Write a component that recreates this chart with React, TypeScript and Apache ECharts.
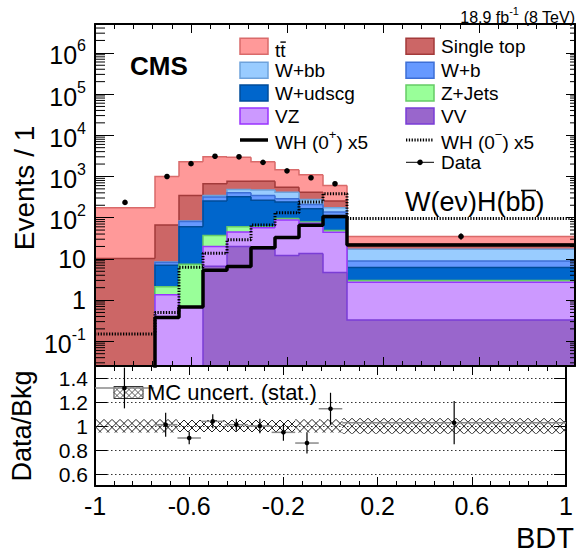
import React, { useEffect, useRef } from "react";
import * as echarts from "echarts";

// ---------------- data ----------------
const binEdges = [-1, -0.75, -0.65, -0.55, -0.45, -0.35, -0.25, -0.15, -0.05, 0.05, 1];
const binCenters = [-0.875, -0.7, -0.6, -0.5, -0.4, -0.3, -0.2, -0.1, 0.0, 0.525];

// background yields per bin (stacked bottom -> top: VV, VZ, Z+Jets, W+udscg, W+b, W+bb, Single top, ttbar)
const vvYield = [0, 0, 0, 6.6, 20, 17, 12, 13.5, 4.7, 0.33];
const vzYield = [0, 1.34, 0.66, 13.4, 25, 40, 76, 59.5, 39.3, 2.37];
const zjetsYield = [0, 0.76, 6.74, 17, 15, 3, 7, 5, 5, 0.3];
const wudscgYield = [0, 4.9, 52.6, 215, 262, 203, 145, 87, 51, 3.2];
const wbYield = [0, 1.2, 21, 64, 78, 83, 48, 45, 38, 2.7];
const wbbYield = [0, 0.2, 2, 30, 85, 121, 127, 66, 36, 8.1];
const singleTopYield = [10.2, 57.6, 263, 320, 285, 303, 135, 139, 78, 6];
const ttbarYield = [164, 934, 1924, 2334, 2170, 1500, 900, 685, 353, 12];

// signals (x5)
const wh0PlusX5 = [0, 0.38, 0.68, 5.3, 6.5, 18.6, 33, 65, 106, 21.8];
const wh0MinusX5 = [0.15, 0.5, 6.3, 13.6, 29, 66, 131, 240, 380, 95];

// data
const dataCounts = [234, 1000, 2040, 3100, 3000, 2200, 1370, 930, 665, 35];
const dataErrors = [15, 32, 45, 56, 55, 47, 37, 30, 26, 6];

// ratio panel
const ratioValues = [1.317, 1.011, 0.9, 1.039, 1.011, 1.0, 0.947, 0.858, 1.144, 1.028];
const ratioErrors = [0.17, 0.1, 0.053, 0.058, 0.05, 0.06, 0.07, 0.088, 0.133, 0.18];
const mcUncert = [0.055, 0.055, 0.05, 0.05, 0.05, 0.05, 0.05, 0.055, 0.055, 0.065];

// axis ranges
const Y_MIN = Math.pow(10, -1.6);
const Y_MAX = Math.pow(10, 6.7);
const R_MIN = 0.5;
const R_MAX = 1.5;

const FONT = "'Liberation Sans', Arial, Helvetica, sans-serif";

// stack layers, drawn from top (total) to bottom
const layers = [
  { name: "tt̄", yields: ttbarYield, fill: "#FF9999", stroke: "#D96A6A" },
  { name: "Single top", yields: singleTopYield, fill: "#CC6666", stroke: "#A33A3A" },
  { name: "W+bb", yields: wbbYield, fill: "#99CCFF", stroke: "#6EA2DB" },
  { name: "W+b", yields: wbYield, fill: "#6699FF", stroke: "#3D6FD6" },
  { name: "W+udscg", yields: wudscgYield, fill: "#0066CC", stroke: "#004C99" },
  { name: "Z+Jets", yields: zjetsYield, fill: "#99FF99", stroke: "#66CC66" },
  { name: "VZ", yields: vzYield, fill: "#CC99FF", stroke: "#9933FF" },
  { name: "VV", yields: vvYield, fill: "#9966CC", stroke: "#7A3DD6" },
];

function hatchSegments(x0: number, y0: number, x1: number, y1: number, step: number) {
  const h = y1 - y0;
  const segs: number[][][] = [];
  const cStart = Math.floor((x0 - h) / step) * step;
  for (let c = cStart; c <= x1; c += step) {
    const t1 = Math.max(0, x0 - c);
    const t2 = Math.min(h, x1 - c);
    if (t2 > t1) segs.push([[c + t1, y0 + t1], [c + t2, y0 + t2]]);
  }
  const c2Start = Math.floor(x0 / step) * step;
  for (let c = c2Start; c <= x1 + h; c += step) {
    const t1 = Math.max(0, c - x1);
    const t2 = Math.min(h, c - x0);
    if (t2 > t1) segs.push([[c - t1, y0 + t1], [c - t2, y0 + t2]]);
  }
  return segs;
}

function buildOption() {
  // cumulative tops (bottom-up)
  const bottomUp = [...layers].reverse();
  const cum: Record<string, number[]> = {};
  let running = new Array(binCenters.length).fill(0);
  bottomUp.forEach((l) => {
    running = running.map((v, i) => v + l.yields[i]);
    cum[l.name] = running.slice();
  });

  const stackSeries = layers.map((l) => {
    const tops = cum[l.name];
    return {
      type: "custom",
      name: l.name,
      xAxisIndex: 0,
      yAxisIndex: 0,
      clip: true,
      z: 2,
      encode: { x: [0, 1], y: [2] },
      data: tops.map((v, i) => [binEdges[i], binEdges[i + 1], v, i === 0 ? 0 : tops[i - 1]]),
      renderItem: (params: any, api: any) => {
        const x0 = api.value(0);
        const x1 = api.value(1);
        const top = Math.max(api.value(2), Y_MIN);
        const prev = Math.max(api.value(3), Y_MIN);
        const pTL = api.coord([x0, top]);
        const pBR = api.coord([x1, Y_MIN]);
        const pPrev = api.coord([x0, prev]);
        const pTR = api.coord([x1, top]);
        return {
          type: "group",
          children: [
            {
              type: "rect",
              shape: { x: pTL[0], y: pTL[1], width: pBR[0] - pTL[0], height: Math.max(0, pBR[1] - pTL[1]) },
              style: { fill: l.fill },
            },
            {
              type: "polyline",
              shape: { points: [pPrev, pTL, pTR] },
              style: { stroke: l.stroke, lineWidth: 1.5, fill: null },
            },
          ],
        };
      },
    };
  });

  const stepData = (vals: number[]) =>
    binEdges.map((e, i) => [e, Math.max(vals[Math.min(i, vals.length - 1)], 1e-4)]);

  const signalSeries = [
    {
      type: "line",
      name: "WH (0+) x5",
      xAxisIndex: 0,
      yAxisIndex: 0,
      step: "end",
      symbol: "none",
      clip: true,
      z: 4,
      data: stepData(wh0PlusX5),
      lineStyle: { color: "#000", width: 3.5 },
    },
    {
      type: "line",
      name: "WH (0-) x5",
      xAxisIndex: 0,
      yAxisIndex: 0,
      step: "end",
      symbol: "none",
      clip: true,
      z: 4,
      data: stepData(wh0MinusX5),
      lineStyle: { color: "#000", width: 3, type: [1.3, 1.5] },
    },
  ];

  const dataSeries = {
    type: "custom",
    name: "Data",
    xAxisIndex: 0,
    yAxisIndex: 0,
    clip: true,
    z: 5,
    encode: { x: 0, y: 1 },
    data: dataCounts.map((v, i) => [binCenters[i], v, dataErrors[i]]),
    renderItem: (params: any, api: any) => {
      const x = api.value(0);
      const v = api.value(1);
      const e = api.value(2);
      const p = api.coord([x, v]);
      const lo = api.coord([x, Math.max(v - e, Y_MIN)]);
      const hi = api.coord([x, v + e]);
      return {
        type: "group",
        children: [
          { type: "line", shape: { x1: lo[0], y1: lo[1], x2: hi[0], y2: hi[1] }, style: { stroke: "#000", lineWidth: 1.2 } },
          { type: "circle", shape: { cx: p[0], cy: p[1], r: 2.8 }, style: { fill: "#000" } },
        ],
      };
    },
  };

  // minor log ticks (2..9 per decade) on left & right of main panel
  const minorVals: number[][] = [];
  for (let e = -2; e <= 6; e++) {
    for (let k = 2; k <= 9; k++) {
      const v = k * Math.pow(10, e);
      if (v > Y_MIN && v < Y_MAX) minorVals.push([-1, v]);
    }
  }
  const minorTickSeries = {
    type: "custom",
    xAxisIndex: 0,
    yAxisIndex: 0,
    z: 20,
    silent: true,
    encode: { x: 0, y: 1 },
    data: minorVals,
    renderItem: (params: any, api: any) => {
      const v = api.value(1);
      const l = api.coord([-1, v]);
      const r = api.coord([1, v]);
      return {
        type: "group",
        children: [
          { type: "line", shape: { x1: l[0], y1: l[1], x2: l[0] + 10, y2: l[1] }, style: { stroke: "#000", lineWidth: 1 } },
          { type: "line", shape: { x1: r[0] - 5, y1: r[1], x2: r[0], y2: r[1] }, style: { stroke: "#000", lineWidth: 1 } },
        ],
      };
    },
  };

  const hatchSeries = {
    type: "custom",
    name: "MC uncert. (stat.)",
    xAxisIndex: 2,
    yAxisIndex: 2,
    clip: true,
    z: 2,
    encode: { x: [0, 1], y: [2, 3] },
    data: mcUncert.map((u, i) => [binEdges[i], binEdges[i + 1], 1 - u, 1 + u]),
    renderItem: (params: any, api: any) => {
      const a = api.coord([api.value(0), api.value(3)]);
      const b = api.coord([api.value(1), api.value(2)]);
      const segs = hatchSegments(a[0], a[1], b[0], b[1], 8);
      return {
        type: "group",
        children: segs.map((s) => ({
          type: "line",
          shape: { x1: s[0][0], y1: s[0][1], x2: s[1][0], y2: s[1][1] },
          style: { stroke: "#222", lineWidth: 1 },
        })),
      };
    },
  };

  const ratioSeries = {
    type: "custom",
    name: "Data/Bkg",
    xAxisIndex: 2,
    yAxisIndex: 2,
    clip: true,
    z: 5,
    encode: { x: 0, y: 1 },
    data: ratioValues.map((r, i) => [binCenters[i], r, ratioErrors[i], binEdges[i], binEdges[i + 1]]),
    renderItem: (params: any, api: any) => {
      const x = api.value(0);
      const r = api.value(1);
      const e = api.value(2);
      const p = api.coord([x, r]);
      const l = api.coord([api.value(3), r]);
      const rr = api.coord([api.value(4), r]);
      const lo = api.coord([x, r - e]);
      const hi = api.coord([x, r + e]);
      return {
        type: "group",
        children: [
          { type: "line", shape: { x1: l[0], y1: l[1], x2: rr[0], y2: rr[1] }, style: { stroke: "#8a8a8a", lineWidth: 1.5 } },
          { type: "line", shape: { x1: lo[0], y1: lo[1], x2: hi[0], y2: hi[1] }, style: { stroke: "#000", lineWidth: 1.2 } },
          { type: "circle", shape: { cx: p[0], cy: p[1], r: 2.3 }, style: { fill: "#000" } },
        ],
      };
    },
  };

  const frameLine = { show: true, onZero: false, lineStyle: { color: "#000", width: 2 } };
  const xTickCommon = {
    type: "value",
    min: -1,
    max: 1,
    interval: 0.4,
    axisLine: frameLine,
    axisTick: { show: true, inside: true, length: 9, lineStyle: { color: "#000", width: 1 } },
    minorTick: { show: true, splitNumber: 5, length: 5, lineStyle: { color: "#000", width: 1 } },
    splitLine: { show: false },
    minorSplitLine: { show: false },
  };

  const logLabel = (v: number) => {
    const e = Math.log10(v);
    const r = Math.round(e);
    if (Math.abs(e - r) > 1e-4) return "";
    if (r === 0) return "{b|1}";
    if (r === 1) return "{b|10}";
    return `{p|10}{s|${r}}`;
  };

  const ratioLabel = (v: number) => {
    const k = v * 5;
    if (Math.abs(k - Math.round(k)) > 1e-6) return "";
    return String(+v.toFixed(1));
  };

  // legend graphics
  const rowsY = [46.3, 70.3, 93, 116, 140, 162.3];
  const col1 = { sx: 240, tx: 275 };
  const col2 = { sx: 406, tx: 441 };
  const swW = 28;
  const swH = 16;
  const legendText = (x: number, y: number, text: string, extra: any = {}) => ({
    type: "text",
    x,
    y,
    z: 100,
    style: {
      text,
      fill: "#000",
      fontSize: 19,
      fontFamily: FONT,
      align: "left",
      verticalAlign: "middle",
      rich: {
        s: { fontSize: 13, fontFamily: FONT, fill: "#000", verticalAlign: "top", lineHeight: 13 },
        n: { fontSize: 19, fontFamily: FONT, fill: "#000", verticalAlign: "bottom", lineHeight: 24 },
      },
      ...extra,
    },
  });
  const swatch = (x: number, y: number, fill: string, stroke: string) => ({
    type: "rect",
    z: 100,
    shape: { x, y: y - swH / 2, width: swW, height: swH },
    style: { fill, stroke, lineWidth: 1.5 },
  });

  const legendSlots = [
    { col: col1, row: 0, layer: 0 },
    { col: col2, row: 0, layer: 1 },
    { col: col1, row: 1, layer: 2 },
    { col: col2, row: 1, layer: 3 },
    { col: col1, row: 2, layer: 4 },
    { col: col2, row: 2, layer: 5 },
    { col: col1, row: 3, layer: 6 },
    { col: col2, row: 3, layer: 7 },
  ];

  const graphics: any[] = [];
  legendSlots.forEach((s) => {
    const l = layers[s.layer];
    const y = rowsY[s.row];
    graphics.push(swatch(s.col.sx, y, l.fill, l.stroke));
    if (s.layer === 0) {
      graphics.push(legendText(s.col.tx, y + 4, "tt"));
      graphics.push({
        type: "line",
        z: 100,
        shape: { x1: s.col.tx + 5.4, y1: y - 4.2, x2: s.col.tx + 10.8, y2: y - 4.2 },
        style: { stroke: "#000", lineWidth: 1.4 },
      });
    } else {
      graphics.push(legendText(s.col.tx, y, l.name));
    }
  });
  // signal legend entries
  graphics.push({
    type: "line",
    z: 100,
    shape: { x1: col1.sx, y1: rowsY[4], x2: col1.sx + swW, y2: rowsY[4] },
    style: { stroke: "#000", lineWidth: 3.5 },
  });
  graphics.push(legendText(col1.tx, rowsY[4], "{n|WH (0}{s|+}{n|) x5}"));
  graphics.push({
    type: "line",
    z: 100,
    shape: { x1: col2.sx, y1: rowsY[4], x2: col2.sx + swW, y2: rowsY[4] },
    style: { stroke: "#000", lineWidth: 3, lineDash: [1.3, 1.5] },
  });
  graphics.push(legendText(col2.tx, rowsY[4], "{n|WH (0}{s|−}{n|) x5}"));
  graphics.push({
    type: "line",
    z: 100,
    shape: { x1: col2.sx, y1: rowsY[5], x2: col2.sx + swW, y2: rowsY[5] },
    style: { stroke: "#000", lineWidth: 1 },
  });
  graphics.push({
    type: "circle",
    z: 100,
    shape: { cx: col2.sx + swW / 2, cy: rowsY[5], r: 2.8 },
    style: { fill: "#000" },
  });
  graphics.push(legendText(col2.tx, rowsY[5], "Data"));

  // CMS label
  graphics.push({
    type: "text",
    x: 130,
    y: 66,
    z: 100,
    style: { text: "CMS", fill: "#000", fontSize: 26, fontWeight: "bold", fontFamily: FONT, align: "left", verticalAlign: "middle" },
  });
  // channel label
  graphics.push({
    type: "text",
    x: 405,
    y: 202,
    z: 100,
    style: { text: "W(eν)H(bb)", fill: "#000", fontSize: 27, fontFamily: FONT, align: "left", verticalAlign: "middle" },
  });
  graphics.push({
    type: "line",
    z: 100,
    shape: { x1: 405 + 116, y1: 190.5, x2: 405 + 131, y2: 190.5 },
    style: { stroke: "#000", lineWidth: 1.6 },
  });
  // lumi label
  graphics.push({
    type: "text",
    x: 575,
    y: 15,
    z: 100,
    style: {
      text: "{n|18.9 fb}{s|-1}{n| (8 TeV)}",
      fill: "#000",
      fontSize: 16,
      fontFamily: FONT,
      align: "right",
      verticalAlign: "middle",
      rich: {
        n: { fontSize: 16, fontFamily: FONT, fill: "#000", verticalAlign: "bottom", lineHeight: 20 },
        s: { fontSize: 11, fontFamily: FONT, fill: "#000", verticalAlign: "top", lineHeight: 11 },
      },
    },
  });
  // axis titles
  graphics.push({
    type: "text",
    x: 24,
    y: 188,
    rotation: Math.PI / 2,
    z: 100,
    style: { text: "Events / 1", fill: "#000", fontSize: 28, fontFamily: FONT, align: "center", verticalAlign: "middle" },
  });
  graphics.push({
    type: "text",
    x: 22,
    y: 426,
    rotation: Math.PI / 2,
    z: 100,
    style: { text: "Data/Bkg", fill: "#000", fontSize: 27, fontFamily: FONT, align: "center", verticalAlign: "middle" },
  });
  graphics.push({
    type: "text",
    x: 574,
    y: 538,
    z: 100,
    style: { text: "BDT", fill: "#000", fontSize: 29, fontFamily: FONT, align: "right", verticalAlign: "middle" },
  });
  // ratio legend (below the ratio points in z-order)
  const bx0 = 114, by0 = 386.5, bx1 = 143, by1 = 398.5;
  hatchSegments(bx0, by0, bx1, by1, 6).forEach((s) =>
    graphics.push({
      type: "line",
      z: 1,
      shape: { x1: s[0][0], y1: s[0][1], x2: s[1][0], y2: s[1][1] },
      style: { stroke: "#333", lineWidth: 0.8 },
    })
  );
  graphics.push({
    type: "rect",
    z: 1,
    shape: { x: bx0, y: by0, width: bx1 - bx0, height: by1 - by0 },
    style: { fill: null, stroke: "#333", lineWidth: 1 },
  });
  graphics.push({
    type: "text",
    x: 147,
    y: 392,
    z: 100,
    style: { text: "MC uncert. (stat.)", fill: "#000", fontSize: 22, fontFamily: FONT, align: "left", verticalAlign: "middle" },
  });

  return {
    animation: false,
    backgroundColor: "#fff",
    textStyle: { fontFamily: FONT },
    grid: [
      { left: 95, top: 24, width: 480, height: 342 },
      { left: 95, top: 366, width: 480, height: 120 },
    ],
    xAxis: [
      { ...xTickCommon, gridIndex: 0, position: "bottom", z: 10, axisLabel: { show: false } },
      { ...xTickCommon, gridIndex: 0, position: "top", z: 10, axisLabel: { show: false } },
      {
        ...xTickCommon,
        gridIndex: 1,
        position: "bottom",
        z: 10,
        axisLabel: {
          show: true,
          fontSize: 25,
          color: "#000",
          margin: 7,
          fontFamily: FONT,
          formatter: (v: number) => String(+v.toFixed(2)),
        },
      },
      { ...xTickCommon, gridIndex: 1, position: "top", z: 10, axisLabel: { show: false } },
    ],
    yAxis: [
      {
        gridIndex: 0,
        type: "log",
        logBase: 10,
        min: Y_MIN,
        max: Y_MAX,
        position: "left",
        z: 10,
        axisLine: frameLine,
        axisTick: { show: true, inside: true, length: 19, lineStyle: { color: "#000", width: 1 } },
        splitLine: { show: false },
        axisLabel: {
          show: true,
          margin: 9,
          color: "#000",
          fontSize: 25,
          fontFamily: FONT,
          formatter: logLabel,
          rich: {
            b: { fontSize: 25, fontFamily: FONT, color: "#000" },
            p: { fontSize: 25, fontFamily: FONT, color: "#000", lineHeight: 30, verticalAlign: "bottom" },
            s: { fontSize: 16, fontFamily: FONT, color: "#000", lineHeight: 16, verticalAlign: "top" },
          },
        },
      },
      {
        gridIndex: 0,
        type: "log",
        logBase: 10,
        min: Y_MIN,
        max: Y_MAX,
        position: "right",
        z: 10,
        axisLine: frameLine,
        axisTick: { show: true, inside: true, length: 9, lineStyle: { color: "#000", width: 1 } },
        splitLine: { show: false },
        axisLabel: { show: false },
      },
      {
        gridIndex: 1,
        type: "value",
        min: R_MIN,
        max: R_MAX,
        splitNumber: 5,
        position: "left",
        z: 1,
        axisLine: frameLine,
        axisTick: { show: true, inside: true, length: 12, lineStyle: { color: "#000", width: 1 } },
        splitLine: { show: true, lineStyle: { color: "#333", width: 1, type: [1.5, 2.5] } },
        axisLabel: {
          show: true,
          margin: 7,
          color: "#000",
          fontSize: 21,
          lineHeight: 18,
          fontFamily: FONT,
          formatter: ratioLabel,
        },
      },
      {
        gridIndex: 1,
        type: "value",
        min: R_MIN,
        max: R_MAX,
        splitNumber: 5,
        position: "right",
        z: 1,
        axisLine: frameLine,
        axisTick: { show: true, inside: true, length: 12, lineStyle: { color: "#000", width: 1 } },
        splitLine: { show: false },
        axisLabel: { show: false },
      },
    ],
    series: [...stackSeries, ...signalSeries, dataSeries, minorTickSeries, hatchSeries, ratioSeries],
    graphic: graphics,
  };
}

export default function App() {
  const ref = useRef<HTMLDivElement>(null);
  useEffect(() => {
    if (!ref.current) return;
    const chart = echarts.init(ref.current, undefined, { renderer: "svg" });
    chart.setOption(buildOption() as any);
    return () => {
      chart.dispose();
    };
  }, []);
  return (
    <div
      ref={ref}
      style={{ position: "fixed", left: 0, top: 0, width: 576, height: 554, background: "#fff" }}
    />
  );
}
